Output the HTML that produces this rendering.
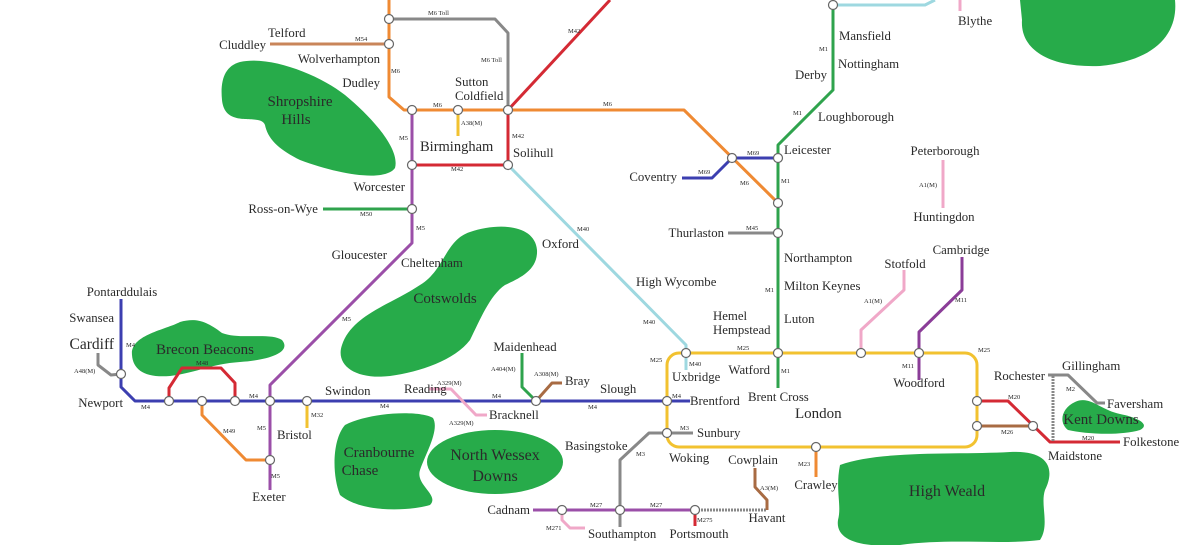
<!DOCTYPE html>
<html><head><meta charset="utf-8"><style>
html,body{margin:0;padding:0;background:#fff;width:1200px;height:545px;overflow:hidden}
svg{display:block}
text{font-family:"Liberation Serif",serif;fill:#2a2a2a}
.l{font-size:12.8px}
.r{font-size:6.5px;fill:#555}
.b{font-size:15px;fill:#0b3d17}
.n{fill:#fff;stroke:#666;stroke-width:1.2}
.rd path{fill:none;stroke-width:3;stroke-linejoin:round}
.g path,.g ellipse{fill:#27ab4a;stroke:none}
</style></head><body>
<svg width="1200" height="545" viewBox="0 0 1200 545" xmlns="http://www.w3.org/2000/svg">
<g class="g">
<path d="M240,62 C270,55 320,75 345,95 C375,120 400,150 395,168 C385,182 340,175 300,160 C280,150 268,140 265,125 C260,112 225,130 222,100 C220,80 225,66 240,62 Z"/>
<path d="M132,355 C130,335 165,330 180,322 C195,318 205,320 222,333 C240,340 270,332 282,340 C292,352 270,360 240,362 C210,364 200,372 170,376 C145,378 133,370 132,355 Z"/>
<path d="M470,232 C500,222 535,225 537,250 C538,270 520,278 505,285 C490,295 480,320 470,340 C455,360 420,372 390,376 C355,380 335,365 342,345 C352,315 390,305 420,285 C445,270 445,240 470,232 Z"/>
<path d="M345,425 C370,412 420,410 433,418 C440,430 425,455 420,470 C415,485 440,495 430,505 C405,512 360,512 340,495 C332,475 332,440 345,425 Z"/>
<ellipse cx="495" cy="462" rx="68" ry="32"/>
<path d="M840,465 C880,450 960,455 1010,452 C1050,450 1055,470 1045,490 C1040,505 1050,525 1040,540 C1000,545 950,538 900,545 C860,548 835,540 838,520 C842,505 835,490 840,465 Z"/>
<path d="M1075,402 C1090,395 1100,410 1120,414 C1140,418 1150,425 1140,430 C1120,436 1085,434 1068,430 C1058,422 1062,408 1075,402 Z"/>
<path d="M1020,0 L1175,0 C1178,30 1160,60 1100,66 C1050,68 1020,50 1022,20 Z"/>
</g>
<g class="b" text-anchor="middle">
<text x="300" y="106">Shropshire</text><text x="296" y="124">Hills</text>
<text x="205" y="354">Brecon Beacons</text>
<text x="445" y="303">Cotswolds</text>
<text x="379" y="457">Cranbourne</text><text x="360" y="475">Chase</text>
<text x="495" y="460" style="font-size:16px">North Wessex</text><text x="495" y="481" style="font-size:16px">Downs</text>
<text x="947" y="496" style="font-size:16px">High Weald</text>
<text x="1101" y="424">Kent Downs</text>
<text x="1075" y="0">Wolds</text>
</g>
<g class="rd">
<path d="M389,0 V97 L404,110 H684 L778,203" stroke="#ef8a33"/>
<path d="M270,44 H389" stroke="#c9855a"/>
<path d="M389,19 H495 L508,33 V110" stroke="#888"/>
<path d="M508,110 L610,0" stroke="#d42a34"/>
<path d="M508,110 V165 H412" stroke="#d42a34"/>
<path d="M458,110 V136" stroke="#f2c230"/>
<path d="M412,110 V243 L270,385 V490" stroke="#9b4fa8"/>
<path d="M323,209 H412" stroke="#2fa34d"/>
<path d="M508,165 L686,345 V370" stroke="#9ed8e0"/>
<path d="M833,5 V90 L778,145 V388" stroke="#2fa34d"/>
<path d="M833,5 H925 L935,0" stroke="#9ed8e0"/>
<path d="M960,0 V11" stroke="#f0a8c8"/>
<path d="M682,178 H712 L732,158 H778" stroke="#3c3fb0"/>
<path d="M728,233 H778" stroke="#888"/>
<path d="M943,160 V208" stroke="#f0a8c8"/>
<path d="M861,353 V330 L904,290 V270" stroke="#f0a8c8"/>
<path d="M919,380 V332 L962,290 V257" stroke="#8b3d98"/>
<path d="M121,299 V387 L135,401 H690" stroke="#3c3fb0"/>
<path d="M98,353 V365 L111,375 L121,374" stroke="#888"/>
<path d="M169,401 V388 L182,368 H221 L235,383 V401" stroke="#d42a34"/>
<path d="M202,401 V415 L246,460 H270" stroke="#ef8a33"/>
<path d="M307,401 V428" stroke="#f2c230"/>
<path d="M429,389 H451 L476,415 H487" stroke="#f0a8c8"/>
<path d="M522,353 V387 L536,401" stroke="#2fa34d"/>
<path d="M536,401 L552,383 H562" stroke="#a86b43"/>
<path d="M667,433 H693" stroke="#888"/>
<path d="M667,433 H649 L620,460 V527" stroke="#888"/>
<path d="M533,510 H695" stroke="#9b4fa8"/>
<path d="M695,510 H767" stroke="#888" stroke-dasharray="2,1"/>
<path d="M767,510 V500 L755,487 V468" stroke="#a86b43"/>
<path d="M695,510 V526" stroke="#d42a34"/>
<path d="M562,510 V520 L570,528 H585" stroke="#f0a8c8"/>
<path d="M816,447 V477" stroke="#ef8a33"/>
<path d="M977,401 H1008 L1050,442 H1120" stroke="#d42a34"/>
<path d="M977,426 H1033" stroke="#a86b43"/>
<path d="M1053,376 V442" stroke="#888" stroke-width="2" stroke-dasharray="2,1"/>
<path d="M1048,375 H1068 L1097,403 H1105" stroke="#888"/>
</g>
<rect x="667" y="353" width="310" height="94" rx="12" ry="12" stroke="#f2c230" stroke-width="3" fill="none"/>
<g class="n">
<circle cx="389" cy="19" r="4.5"/><circle cx="389" cy="44" r="4.5"/>
<circle cx="412" cy="110" r="4.5"/><circle cx="458" cy="110" r="4.5"/><circle cx="508" cy="110" r="4.5"/>
<circle cx="412" cy="165" r="4.5"/><circle cx="508" cy="165" r="4.5"/><circle cx="412" cy="209" r="4.5"/>
<circle cx="833" cy="5" r="4.5"/><circle cx="732" cy="158" r="4.5"/><circle cx="778" cy="158" r="4.5"/>
<circle cx="778" cy="203" r="4.5"/><circle cx="778" cy="233" r="4.5"/>
<circle cx="686" cy="353" r="4.5"/><circle cx="778" cy="353" r="4.5"/><circle cx="861" cy="353" r="4.5"/><circle cx="919" cy="353" r="4.5"/>
<circle cx="667" cy="401" r="4.5"/><circle cx="667" cy="433" r="4.5"/><circle cx="816" cy="447" r="4.5"/>
<circle cx="977" cy="401" r="4.5"/><circle cx="977" cy="426" r="4.5"/><circle cx="1033" cy="426" r="4.5"/>
<circle cx="121" cy="374" r="4.5"/><circle cx="169" cy="401" r="4.5"/><circle cx="202" cy="401" r="4.5"/><circle cx="235" cy="401" r="4.5"/>
<circle cx="270" cy="401" r="4.5"/><circle cx="307" cy="401" r="4.5"/><circle cx="536" cy="401" r="4.5"/><circle cx="270" cy="460" r="4.5"/>
<circle cx="562" cy="510" r="4.5"/><circle cx="620" cy="510" r="4.5"/><circle cx="695" cy="510" r="4.5"/>
</g>
<g class="l">
<text x="268" y="37">Telford</text>
<text x="266" y="49" text-anchor="end">Cluddley</text>
<text x="380" y="63" text-anchor="end">Wolverhampton</text>
<text x="380" y="87" text-anchor="end">Dudley</text>
<text x="455" y="86">Sutton</text><text x="455" y="100">Coldfield</text>
<text x="420" y="151" style="font-size:14.5px">Birmingham</text>
<text x="513" y="157">Solihull</text>
<text x="405" y="191" text-anchor="end">Worcester</text>
<text x="318" y="213" text-anchor="end">Ross-on-Wye</text>
<text x="387" y="259" text-anchor="end">Gloucester</text>
<text x="401" y="267">Cheltenham</text>
<text x="542" y="248">Oxford</text>
<text x="636" y="286">High Wycombe</text>
<text x="839" y="40">Mansfield</text>
<text x="838" y="68">Nottingham</text>
<text x="827" y="79" text-anchor="end">Derby</text>
<text x="818" y="121">Loughborough</text>
<text x="784" y="154">Leicester</text>
<text x="677" y="181" text-anchor="end">Coventry</text>
<text x="724" y="237" text-anchor="end">Thurlaston</text>
<text x="784" y="262">Northampton</text>
<text x="784" y="290">Milton Keynes</text>
<text x="784" y="323">Luton</text>
<text x="713" y="320">Hemel</text><text x="713" y="334">Hempstead</text>
<text x="770" y="374" text-anchor="end">Watford</text>
<text x="748" y="401">Brent Cross</text>
<text x="795" y="418" style="font-size:15px">London</text>
<text x="945" y="155" text-anchor="middle">Peterborough</text>
<text x="944" y="221" text-anchor="middle">Huntingdon</text>
<text x="905" y="268" text-anchor="middle">Stotfold</text>
<text x="961" y="254" text-anchor="middle">Cambridge</text>
<text x="919" y="387" text-anchor="middle">Woodford</text>
<text x="958" y="25">Blythe</text>
<text x="672" y="381">Uxbridge</text>
<text x="690" y="405">Brentford</text>
<text x="697" y="437">Sunbury</text>
<text x="669" y="462">Woking</text>
<text x="753" y="464" text-anchor="middle">Cowplain</text>
<text x="816" y="489" text-anchor="middle">Crawley</text>
<text x="767" y="522" text-anchor="middle">Havant</text>
<text x="699" y="538" text-anchor="middle">Portsmouth</text>
<text x="588" y="538">Southampton</text>
<text x="530" y="514" text-anchor="end">Cadnam</text>
<text x="565" y="450">Basingstoke</text>
<text x="600" y="393">Slough</text>
<text x="565" y="385">Bray</text>
<text x="525" y="351" text-anchor="middle">Maidenhead</text>
<text x="489" y="419">Bracknell</text>
<text x="404" y="393">Reading</text>
<text x="325" y="395">Swindon</text>
<text x="277" y="439">Bristol</text>
<text x="269" y="501" text-anchor="middle">Exeter</text>
<text x="122" y="296" text-anchor="middle">Pontarddulais</text>
<text x="114" y="322" text-anchor="end">Swansea</text>
<text x="114" y="349" text-anchor="end" style="font-size:15.5px">Cardiff</text>
<text x="123" y="407" text-anchor="end">Newport</text>
<text x="1045" y="380" text-anchor="end">Rochester</text>
<text x="1062" y="370">Gillingham</text>
<text x="1107" y="408">Faversham</text>
<text x="1123" y="446">Folkestone</text>
<text x="1048" y="460">Maidstone</text>
</g>
<g class="r">
<text x="428" y="15">M6 Toll</text><text x="355" y="41">M54</text><text x="391" y="73">M6</text>
<text x="481" y="62">M6 Toll</text><text x="433" y="107">M6</text><text x="461" y="125">A38(M)</text>
<text x="399" y="140">M5</text><text x="512" y="138">M42</text><text x="451" y="171">M42</text>
<text x="360" y="216">M50</text><text x="416" y="230">M5</text><text x="568" y="33">M42</text>
<text x="603" y="106">M6</text><text x="577" y="231">M40</text><text x="643" y="324">M40</text>
<text x="819" y="51">M1</text><text x="793" y="115">M1</text><text x="747" y="155">M69</text>
<text x="698" y="174">M69</text><text x="740" y="185">M6</text><text x="781" y="183">M1</text>
<text x="746" y="230">M45</text><text x="765" y="292">M1</text><text x="919" y="187">A1(M)</text>
<text x="864" y="303">A1(M)</text><text x="955" y="302">M11</text><text x="737" y="350">M25</text>
<text x="978" y="352">M25</text><text x="650" y="362">M25</text><text x="689" y="366">M40</text>
<text x="781" y="373">M1</text><text x="902" y="368">M11</text><text x="672" y="398">M4</text>
<text x="680" y="430">M3</text><text x="636" y="456">M3</text><text x="798" y="466">M23</text>
<text x="760" y="490">A3(M)</text><text x="650" y="507">M27</text><text x="590" y="507">M27</text>
<text x="697" y="522">M275</text><text x="546" y="530">M271</text><text x="1008" y="399">M20</text>
<text x="1001" y="434">M26</text><text x="1066" y="391">M2</text><text x="1082" y="440">M20</text>
<text x="126" y="347">M4</text><text x="74" y="373">A48(M)</text><text x="141" y="409">M4</text>
<text x="196" y="365">M48</text><text x="249" y="398">M4</text><text x="223" y="433">M49</text>
<text x="257" y="430">M5</text><text x="271" y="478">M5</text><text x="342" y="321">M5</text>
<text x="311" y="417">M32</text><text x="380" y="408">M4</text><text x="437" y="385">A329(M)</text>
<text x="449" y="425">A329(M)</text><text x="491" y="371">A404(M)</text><text x="534" y="376">A308(M)</text>
<text x="492" y="398">M4</text><text x="588" y="409">M4</text>
</g>
</svg>
</body></html>
